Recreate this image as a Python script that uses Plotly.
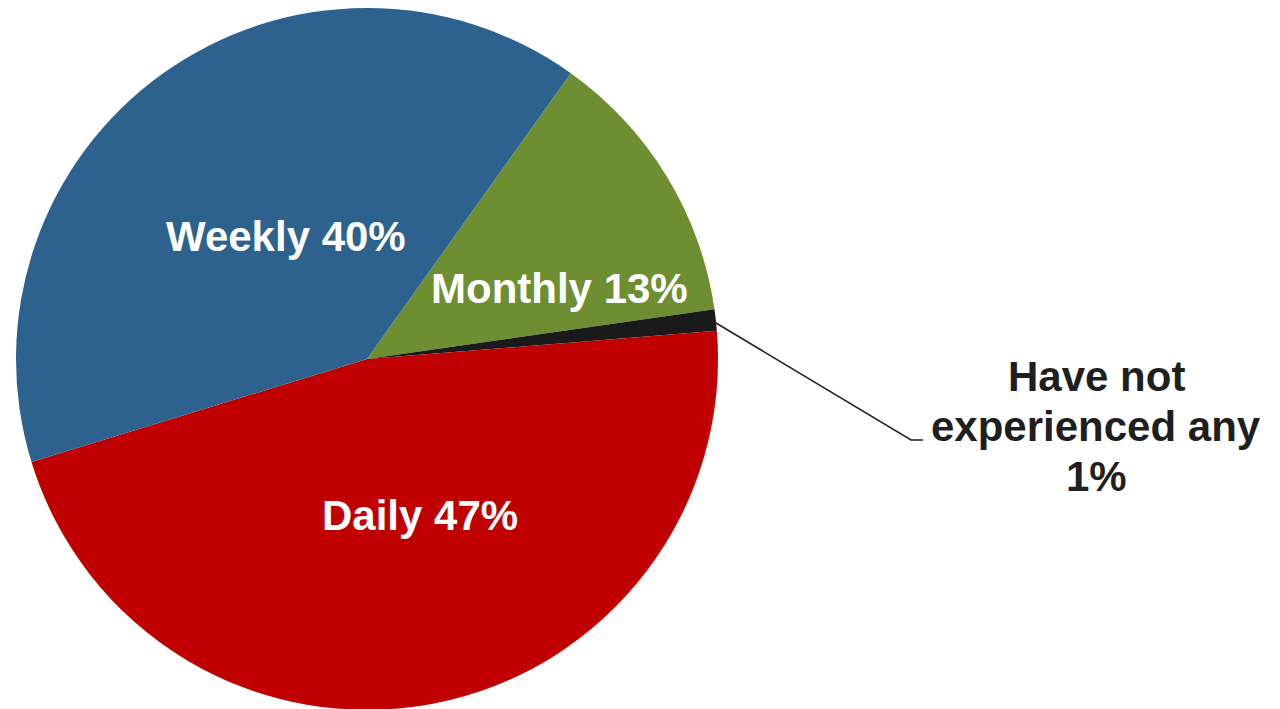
import plotly.graph_objects as go

# Data (clockwise order starting near 1 o'clock)
categories = ["Monthly", "Have not experienced any", "Daily", "Weekly"]
percents = [13, 1, 47, 40]
colors = ["#6E8E32", "#1A1A1A", "#C00000", "#2E628E"]

W, H = 1280, 709
OFF = 8  # default page body margin in the browser

def px(x):
    return (x - OFF) / W

def py(y):
    return (H - (y - OFF)) / H

fig = go.Figure()
fig.add_trace(go.Pie(
    labels=categories,
    values=percents,
    marker=dict(colors=colors, line=dict(width=0)),
    sort=False,
    direction="clockwise",
    rotation=35.5,
    textinfo="none",
    hoverinfo="label+value",
    showlegend=False,
    domain=dict(x=[px(16), px(718)], y=[py(710), 1]),
))

font_white = dict(family="Liberation Sans, Arial, sans-serif", size=42, color="white")
font_black = dict(family="Liberation Sans, Arial, sans-serif", size=42, color="#1F1F1F")

inside_pos = {"Weekly": (286, 236), "Monthly": (559, 288), "Daily": (420, 515)}
annotations = []
for cat, pct in zip(categories, percents):
    if cat in inside_pos:
        x, y = inside_pos[cat]
        annotations.append(dict(
            x=px(x), y=py(y), xref="paper", yref="paper",
            text=f"<b>{cat} {pct}%</b>", showarrow=False,
            xanchor="center", yanchor="middle", font=font_white,
        ))

# Outside label for the small slice
small_idx = categories.index("Have not experienced any")
outside_lines = ["Have not", "experienced any", f"{percents[small_idx]}%"]
for line, y in zip(outside_lines, [376, 426, 476.5]):
    annotations.append(dict(
        x=px(1096), y=py(y), xref="paper", yref="paper",
        text=f"<b>{line}</b>", showarrow=False,
        xanchor="center", yanchor="middle", font=font_black,
    ))

fig.add_shape(
    type="path", xref="paper", yref="paper",
    path=f"M {px(716)} {py(323)} L {px(911)} {py(440)} L {px(923)} {py(440)}",
    line=dict(color="#222222", width=1.6),
)

fig.update_layout(
    width=W, height=H,
    margin=dict(l=0, r=0, t=0, b=0),
    paper_bgcolor="white", plot_bgcolor="white",
    annotations=annotations,
)

fig.write_html("out.html")
